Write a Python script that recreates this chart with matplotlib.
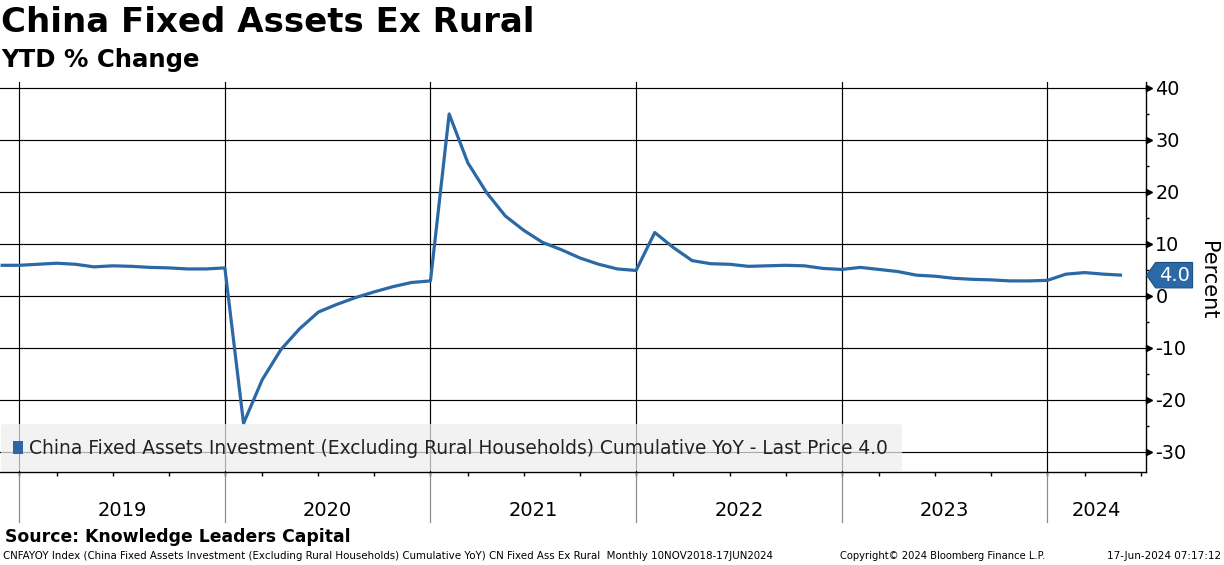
import numpy as np
import matplotlib
matplotlib.use("Agg")
import matplotlib.pyplot as plt
from matplotlib.patches import Polygon, Rectangle, FancyBboxPatch
from matplotlib.transforms import blended_transform_factory, IdentityTransform, ScaledTranslation

# ---------------- data ----------------
months = ["2018-11", "2018-12",
          "2019-02", "2019-03", "2019-04", "2019-05", "2019-06", "2019-07", "2019-08", "2019-09", "2019-10", "2019-11", "2019-12",
          "2020-02", "2020-03", "2020-04", "2020-05", "2020-06", "2020-07", "2020-08", "2020-09", "2020-10", "2020-11", "2020-12",
          "2021-02", "2021-03", "2021-04", "2021-05", "2021-06", "2021-07", "2021-08", "2021-09", "2021-10", "2021-11", "2021-12",
          "2022-02", "2022-03", "2022-04", "2022-05", "2022-06", "2022-07", "2022-08", "2022-09", "2022-10", "2022-11", "2022-12",
          "2023-02", "2023-03", "2023-04", "2023-05", "2023-06", "2023-07", "2023-08", "2023-09", "2023-10", "2023-11", "2023-12",
          "2024-02", "2024-03", "2024-04", "2024-05"]
values = [5.9, 5.9,
          6.1, 6.3, 6.1, 5.6, 5.8, 5.7, 5.5, 5.4, 5.2, 5.2, 5.4,
          -24.5, -16.1, -10.3, -6.3, -3.1, -1.6, -0.3, 0.8, 1.8, 2.6, 2.9,
          35.0, 25.6, 19.9, 15.4, 12.6, 10.3, 8.9, 7.3, 6.1, 5.2, 4.9,
          12.2, 9.3, 6.8, 6.2, 6.1, 5.7, 5.8, 5.9, 5.8, 5.3, 5.1,
          5.5, 5.1, 4.7, 4.0, 3.8, 3.4, 3.2, 3.1, 2.9, 2.9, 3.0,
          4.2, 4.5, 4.2, 4.0]
year_labels = ["2019", "2020", "2021", "2022", "2023", "2024"]
yticks = [40, 30, 20, 10, 0, -10, -20, -30]
last_price = 4.0

title = "China Fixed Assets Ex Rural"
subtitle = "YTD % Change"
legend_text = "China Fixed Assets Investment (Excluding Rural Households) Cumulative YoY - Last Price 4.0"
source_text = "Source: Knowledge Leaders Capital"
footer_left = "CNFAYOY Index (China Fixed Assets Investment (Excluding Rural Households) Cumulative YoY) CN Fixed Ass Ex Rural  Monthly 10NOV2018-17JUN2024"
footer_mid = "Copyright\u00a9 2024 Bloomberg Finance L.P."
footer_right = "17-Jun-2024 07:17:12"

BLUE = "#2b69a6"
plt.rcParams["font.family"] = ["DejaVu Sans"]

W, H = 1224, 565
fig = plt.figure(figsize=(W / 100, H / 100), dpi=100)
ax_left, ax_right, ax_top, ax_bot = 0.0, 1145.6, 82.0, 472.0
ax = fig.add_axes([ax_left / W, (H - ax_bot) / H, (ax_right - ax_left) / W, (ax_bot - ax_top) / H])

x = np.arange(len(values))
ax.plot(x, values, color=BLUE, lw=2.3, zorder=6, solid_joinstyle="round", solid_capstyle="butt")
xmax = 61.26
ax.set_xlim(-0.03, xmax)
ax.set_ylim(-33.85, 41.15)

# spines
for s in ["left", "top"]:
    ax.spines[s].set_visible(False)
ax.spines["right"].set_linewidth(1.0)
ax.spines["bottom"].set_linewidth(1.0)

# horizontal grid
for yv in yticks:
    ax.axhline(yv, color="black", lw=0.85, zorder=2)

# year boundaries at December points
dec_idx = [i for i, m in enumerate(months) if m.endswith("-12")]
bt = blended_transform_factory(ax.transData, ax.transAxes)
for d in dec_idx:
    ax.plot([d, d], [0, 1], color="black", lw=0.85, transform=bt, zorder=2)
    ax.plot([d, d], [0, -(522 - 472) / (ax_bot - ax_top)], color="#8a8a8a", lw=0.85,
            transform=bt, clip_on=False, zorder=2)

# year labels
bounds = dec_idx + [xmax]
for k, lab in enumerate(year_labels):
    cx = (bounds[k] + bounds[k + 1]) / 2
    ax.text(cx, -(511 - 472) / (ax_bot - ax_top), lab, transform=bt, ha="center", va="center",
            fontsize=14, color="black")

# bottom ticks (Mar/Jun/Sep/Dec)
qt = [i for i, m in enumerate(months) if m[5:] in ("03", "06", "09", "12")]
qt = qt + [61]  # Jun 2024 position (no data)
ax.set_xticks(qt)
ax.set_xticklabels([])
ax.tick_params(axis="x", direction="out", length=3.2, width=1.0, color="black")

# right axis ticks
ax.yaxis.tick_right()
ax.set_yticks(yticks)
ax.set_yticklabels([str(v) for v in yticks], fontsize=13.8)
ax.tick_params(axis="y", which="major", length=0, pad=7.0)
ax.set_yticks([35, 25, 15, 5, -5, -15, -25], minor=True)
ax.tick_params(axis="y", which="minor", direction="out", length=2.4, width=1.0, color="black")
rt = blended_transform_factory(ax.transAxes, ax.transData)
off = ScaledTranslation(3.0 / 100, 0, fig.dpi_scale_trans)
ax.plot([1.0] * len(yticks), yticks, linestyle="none", marker=">", markersize=5.0,
        color="black", transform=rt + off, clip_on=False, zorder=7)

# legend box (figure pixel coordinates)
def fx(px):
    return px / W
def fy(py):
    return 1 - py / H

leg = FancyBboxPatch((fx(1), fy(471)), fx(902) - fx(1), fy(424) - fy(471),
                     boxstyle="round,pad=0,rounding_size=0.004", transform=fig.transFigure,
                     facecolor="#eeeeee", edgecolor="none", alpha=0.72, zorder=4)
fig.patches.append(leg)
fig.patches.append(Rectangle((fx(13), fy(454)), fx(23) - fx(13), fy(441) - fy(454),
                             transform=fig.transFigure, facecolor=BLUE, edgecolor="none", zorder=5))
fig.text(fx(29), fy(449), legend_text, fontsize=13.45, color="#222222", ha="left", va="center", zorder=6)

# last price tag
fig.canvas.draw()
xr, y0 = ax.transData.transform((xmax, last_price))
xr = ax.transAxes.transform((1.0, 0))[0]
hh = 12.7
pts = [(xr + 1, y0), (xr + 10, y0 + hh), (xr + 47, y0 + hh), (xr + 47, y0 - hh), (xr + 10, y0 - hh)]
tag = Polygon(pts, closed=True, transform=IdentityTransform(), facecolor=BLUE, edgecolor="#1d4f80",
              lw=0.8, zorder=8, clip_on=False)
fig.patches.append(tag)
fig.text((xr + 28.5) / W, y0 / H, "{:.1f}".format(last_price), color="white", fontsize=14,
         ha="center", va="center", zorder=9)

# Percent label
fig.text(fx(1208), fy(280), "Percent", rotation=270, fontsize=15, ha="center", va="center")

# titles
fig.text(fx(1), fy(23), title, fontsize=24.5, fontweight="bold", ha="left", va="center")
fig.text(fx(1), fy(60), subtitle, fontsize=17.6, fontweight="bold", ha="left", va="center")

# footer
fig.text(fx(5), fy(537), source_text, fontsize=12.4, fontweight="bold", ha="left", va="center")
fig.text(fx(3), fy(556), footer_left, fontsize=7.4, ha="left", va="center")
fig.text(fx(840), fy(556), footer_mid, fontsize=7.2, ha="left", va="center")
fig.text(fx(1221), fy(556), footer_right, fontsize=7.5, ha="right", va="center")

fig.savefig("out.png", dpi=100)
